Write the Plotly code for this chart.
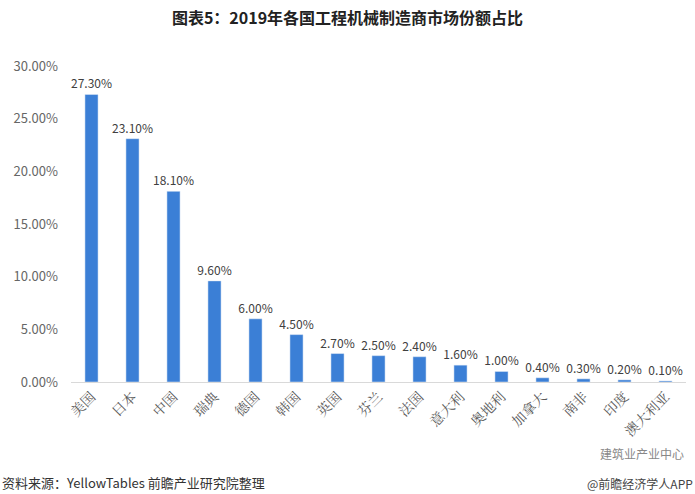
import plotly.graph_objects as go

countries = ["美国", "日本", "中国", "瑞典", "德国", "韩国", "英国", "芬兰", "法国",
             "意大利", "奥地利", "加拿大", "南非", "印度", "澳大利亚"]
shares = [27.3, 23.1, 18.1, 9.6, 6.0, 4.5, 2.7, 2.5, 2.4, 1.6, 1.0, 0.4, 0.3, 0.2, 0.1]
y_ticks = [0, 5, 10, 15, 20, 25, 30]
y_tick_labels = ["0.00%", "5.00%", "10.00%", "15.00%", "20.00%", "25.00%", "30.00%"]

fig = go.Figure()
fig.add_trace(go.Bar(
    x=countries, y=shares,
    marker=dict(color="#3b7fd6"),
    text=[f"{v:.2f}%" for v in shares],
    textposition="outside",
    constraintext="none",
    textfont=dict(size=12, color="#404040", family="Noto Sans CJK SC"),
    cliponaxis=False,
))

fig.update_layout(
    width=695, height=494,
    margin=dict(l=71, r=9, t=66, b=112),
    paper_bgcolor="white", plot_bgcolor="white",
    bargap=0.68,
    showlegend=False,
    title=dict(text="<b>图表5：2019年各国工程机械制造商市场份额占比</b>",
               x=0.5, xanchor="center", y=0.963, yanchor="middle",
               font=dict(size=16, color="#222222", family="Noto Sans CJK SC")),
    xaxis=dict(tickangle=-45, showline=True, linecolor="#d9d9d9", linewidth=1,
               ticks="", tickfont=dict(size=14, color="#595959", family="Noto Serif CJK SC, Noto Sans CJK SC")),
    yaxis=dict(range=[0, 30], tickvals=y_ticks, ticktext=y_tick_labels,
               showgrid=False, zeroline=False, showline=False, ticks="",
               ticklabelstandoff=12,
               tickfont=dict(size=13, color="#666666", family="Noto Sans CJK SC")),
)

fig.add_annotation(text="资料来源：YellowTables 前瞻产业研究院整理", xref="paper", yref="paper",
                   x=-71/615, y=-100/316, xanchor="left", yanchor="middle", showarrow=False,
                   font=dict(size=13, color="#333333", family="Noto Sans CJK SC"))
fig.add_annotation(text="建筑业产业中心", xref="paper", yref="paper",
                   x=1.0, y=-72/316, xanchor="right", yanchor="middle", showarrow=False,
                   font=dict(size=12, color="#888888", family="Noto Sans CJK SC"))
fig.add_annotation(text="@前瞻经济学人APP", xref="paper", yref="paper",
                   x=1.015, y=-101/316, xanchor="right", yanchor="middle", showarrow=False,
                   font=dict(size=12, color="#444444", family="Noto Sans CJK SC"))

fig.write_html("out.html")
